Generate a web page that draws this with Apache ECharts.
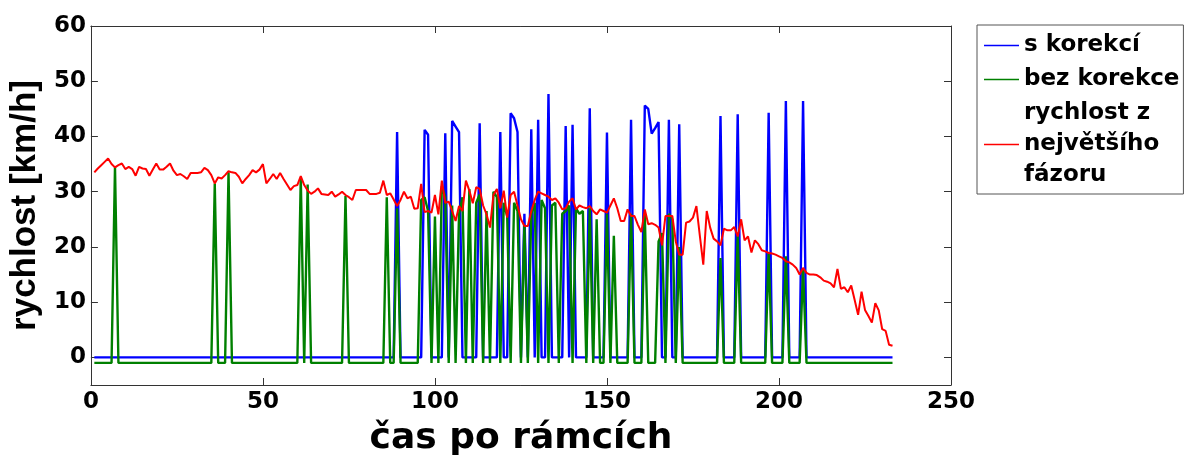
<!DOCTYPE html>
<html>
<head>
<meta charset="utf-8">
<script src="https://cdn.jsdelivr.net/npm/echarts@6/dist/echarts.min.js"></script>
<style>
  html, body { margin: 0; padding: 0; background: #fff; }
  #chart { width: 1184px; height: 462px; }
</style>
</head>
<body>
<div id="chart"></div>
<script>
// Axis ticks
const xTicks = [0, 50, 100, 150, 200, 250];
const yTicks = [0, 10, 20, 30, 40, 50, 60];

// Legend / series labels
const nameCorrected = 's korekcí';
const nameUncorrected = 'bez korekce';
const namePhasor = 'rychlost z\nnejvětšího\nfázoru';

// Frames run 1..frameCount; outside the listed peaks each detector sits on its base value
const frameCount = 233;
const baseCorrected = 0;
const baseUncorrected = -1;

// Speed with correction [frame, km/h]
const correctedPeaks = [
  [89, 40.8], [97, 41.2], [98, 40.3], [103, 40.6], [105, 42.8], [106, 41.8], [107, 40.8],
  [113, 42.4], [119, 40.8], [122, 44.2], [123, 43.3], [124, 40.8], [126, 26.0], [128, 41.3],
  [130, 43.0], [133, 47.7], [138, 41.9], [140, 42.1], [145, 45.1], [150, 40.7], [157, 43.0],
  [161, 45.6], [162, 45.0], [163, 40.5], [164, 41.5], [165, 42.6], [168, 43.0], [171, 42.2],
  [183, 43.7], [188, 44.0], [197, 44.3], [202, 46.4], [207, 46.4]
];

// Speed without correction [frame, km/h]
const uncorrectedPeaks = [
  [7, 34.5], [36, 31.5], [40, 33.5], [61, 32.5], [63, 31.3], [74, 29.2],
  [86, 29.0], [89, 27.0], [96, 28.5], [97, 29.0], [98, 26.5], [100, 25.5], [102, 31.0],
  [103, 29.0], [105, 27.5], [107, 26.0], [108, 29.0], [110, 30.5], [112, 28.0], [113, 29.5],
  [115, 26.5], [117, 30.0], [118, 29.0], [120, 28.0], [121, 25.5], [123, 28.0], [124, 26.5],
  [126, 24.0], [128, 26.0], [129, 28.0], [131, 28.5], [132, 27.0], [134, 27.5], [135, 28.0],
  [137, 26.0], [138, 26.5], [139, 27.5], [141, 27.0], [142, 26.0], [143, 26.5], [145, 27.0],
  [147, 25.0], [150, 26.0], [152, 22.0], [157, 26.0], [161, 26.0], [165, 21.0], [166, 22.5],
  [168, 26.0], [169, 25.0], [171, 20.0], [183, 18.0], [188, 22.0], [197, 19.0], [202, 18.3],
  [207, 16.0]
];

// Speed from the largest phasor, one value per frame (km/h)
const phasorSpeed = [
  33.5, 34.2, 34.8, 35.4, 36.0, 35.0, 34.4, 34.8, 35.1, 34.1,
  34.5, 34.1, 32.9, 34.5, 34.2, 34.1, 32.9, 34.0, 35.1, 34.0,
  34.0, 34.5, 35.1, 33.8, 33.0, 33.2, 32.8, 32.3, 33.4, 33.4,
  33.4, 33.5, 34.3, 33.9, 33.0, 31.5, 32.6, 32.4, 33.0, 33.7,
  33.5, 33.4, 32.7, 31.5, 32.3, 33.0, 33.9, 33.5, 34.0, 35.0,
  31.5, 32.3, 33.2, 32.3, 33.4, 32.3, 31.3, 30.3, 31.0, 31.2,
  32.8, 31.2, 30.2, 29.6, 30.0, 30.6, 29.6, 29.5, 29.4, 30.0,
  29.1, 29.5, 30.0, 29.4, 29.0, 28.5, 30.3, 30.3, 30.3, 30.3,
  29.6, 29.6, 29.6, 29.8, 32.0, 29.4, 29.7, 28.6, 27.4, 28.5,
  30.0, 28.8, 29.1, 26.9, 27.0, 31.4, 26.3, 26.5, 26.2, 29.4,
  25.9, 32.0, 28.0, 28.2, 26.5, 24.7, 27.4, 26.5, 32.0, 30.2,
  27.9, 30.8, 30.5, 27.5, 25.9, 23.5, 29.4, 30.5, 27.0, 30.2,
  25.3, 29.4, 30.0, 27.5, 25.0, 23.8, 23.8, 26.5, 28.5, 30.0,
  29.7, 29.4, 29.1, 28.5, 28.8, 28.0, 26.8, 27.0, 28.2, 28.8,
  26.8, 27.5, 27.2, 27.0, 27.4, 26.5, 25.9, 26.8, 26.5, 26.2,
  27.5, 28.8, 27.0, 24.7, 24.7, 26.8, 25.6, 25.6, 24.0, 22.7,
  26.8, 24.1, 24.3, 24.0, 23.5, 20.3, 25.6, 25.6, 25.6, 21.0,
  18.6, 18.6, 24.4, 24.6, 25.3, 27.4, 22.0, 16.8, 26.5, 23.5,
  21.5, 21.0, 20.3, 23.3, 23.0, 23.0, 23.6, 21.9, 25.0, 21.2,
  21.9, 19.0, 21.2, 20.5, 19.4, 19.2, 18.9, 18.8, 18.6, 18.3,
  18.0, 17.4, 17.2, 16.8, 16.2, 15.0, 16.2, 15.3, 15.0, 15.0,
  14.9, 14.5, 13.9, 13.7, 13.4, 12.7, 16.0, 12.4, 12.7, 11.8,
  13.0, 10.4, 7.7, 11.9, 8.6, 7.5, 6.3, 9.8, 8.5, 5.1,
  4.8, 2.3, 2.1
];

// Expand a sparse peak list into one [frame, value] point per frame
function perFrame(peaks, base) {
  const vals = new Array(frameCount).fill(base);
  peaks.forEach(([f, v]) => { vals[f - 1] = v; });
  return vals.map((v, i) => [i + 1, v]);
}

const wideBold = { fontFamily: 'DejaVu Sans', fontWeight: 'bold', color: '#000' };
const axisColor = '#333';

function boxAxis(extra) {
  return Object.assign({
    type: 'value',
    axisLine: { show: true, onZero: false, lineStyle: { color: axisColor, width: 1 } },
    axisTick: { show: true, inside: true, length: 7, lineStyle: { color: axisColor, width: 1 } },
    splitLine: { show: false }
  }, extra);
}

const chart = echarts.init(document.getElementById('chart'), null, { renderer: 'canvas' });
chart.setOption({
  animation: false,
  backgroundColor: '#fff',
  grid: { left: 89, top: 26, width: 862, height: 370, containLabel: false },
  xAxis: [
    boxAxis({
      position: 'bottom', min: xTicks[0], max: xTicks[xTicks.length - 1], interval: 50,
      axisLabel: Object.assign({ fontSize: 23, margin: 6 }, wideBold),
      name: 'čas po rámcích', nameLocation: 'middle', nameGap: 36,
      nameTextStyle: Object.assign({ fontSize: 36 }, wideBold)
    }),
    boxAxis({
      position: 'top', min: xTicks[0], max: xTicks[xTicks.length - 1], interval: 50,
      axisLabel: { show: false }
    })
  ],
  yAxis: [
    boxAxis({
      position: 'left', min: -5, max: 60,
      axisTick: { show: true, inside: true, length: 7, customValues: yTicks, lineStyle: { color: axisColor } },
      axisLabel: Object.assign({ fontSize: 23, margin: 5, customValues: yTicks }, wideBold),
      name: 'rychlost [km/h]', nameLocation: 'middle', nameGap: 43, nameRotate: 90,
      nameTextStyle: { fontFamily: 'Liberation Sans', fontWeight: 'bold', fontSize: 35, color: '#000' }
    }),
    boxAxis({
      position: 'right', min: -5, max: 60,
      axisTick: { show: true, inside: true, length: 7, customValues: yTicks, lineStyle: { color: axisColor } },
      axisLabel: { show: false }
    })
  ],
  legend: {
    orient: 'vertical',
    left: 977, top: 25,
    padding: [5, 4, 3, 7],
    itemGap: 3,
    itemWidth: 35, itemHeight: 1.5,
    icon: 'rect',
    borderColor: '#555', borderWidth: 1,
    backgroundColor: '#fff',
    textStyle: Object.assign({ fontSize: 23, lineHeight: 31 }, wideBold),
    data: [nameCorrected, nameUncorrected, namePhasor]
  },
  series: [
    {
      name: nameCorrected, type: 'line', showSymbol: false, symbol: 'none',
      data: perFrame(correctedPeaks, baseCorrected),
      lineStyle: { color: '#0000ff', width: 2.4 }, itemStyle: { color: '#0000ff' }
    },
    {
      name: nameUncorrected, type: 'line', showSymbol: false, symbol: 'none',
      data: perFrame(uncorrectedPeaks, baseUncorrected),
      lineStyle: { color: '#008000', width: 2.4 }, itemStyle: { color: '#008000' }
    },
    {
      name: namePhasor, type: 'line', showSymbol: false, symbol: 'none',
      data: phasorSpeed.map((v, i) => [i + 1, v]),
      lineStyle: { color: '#ff0000', width: 2 }, itemStyle: { color: '#ff0000' }
    }
  ]
});
</script>
</body>
</html>
